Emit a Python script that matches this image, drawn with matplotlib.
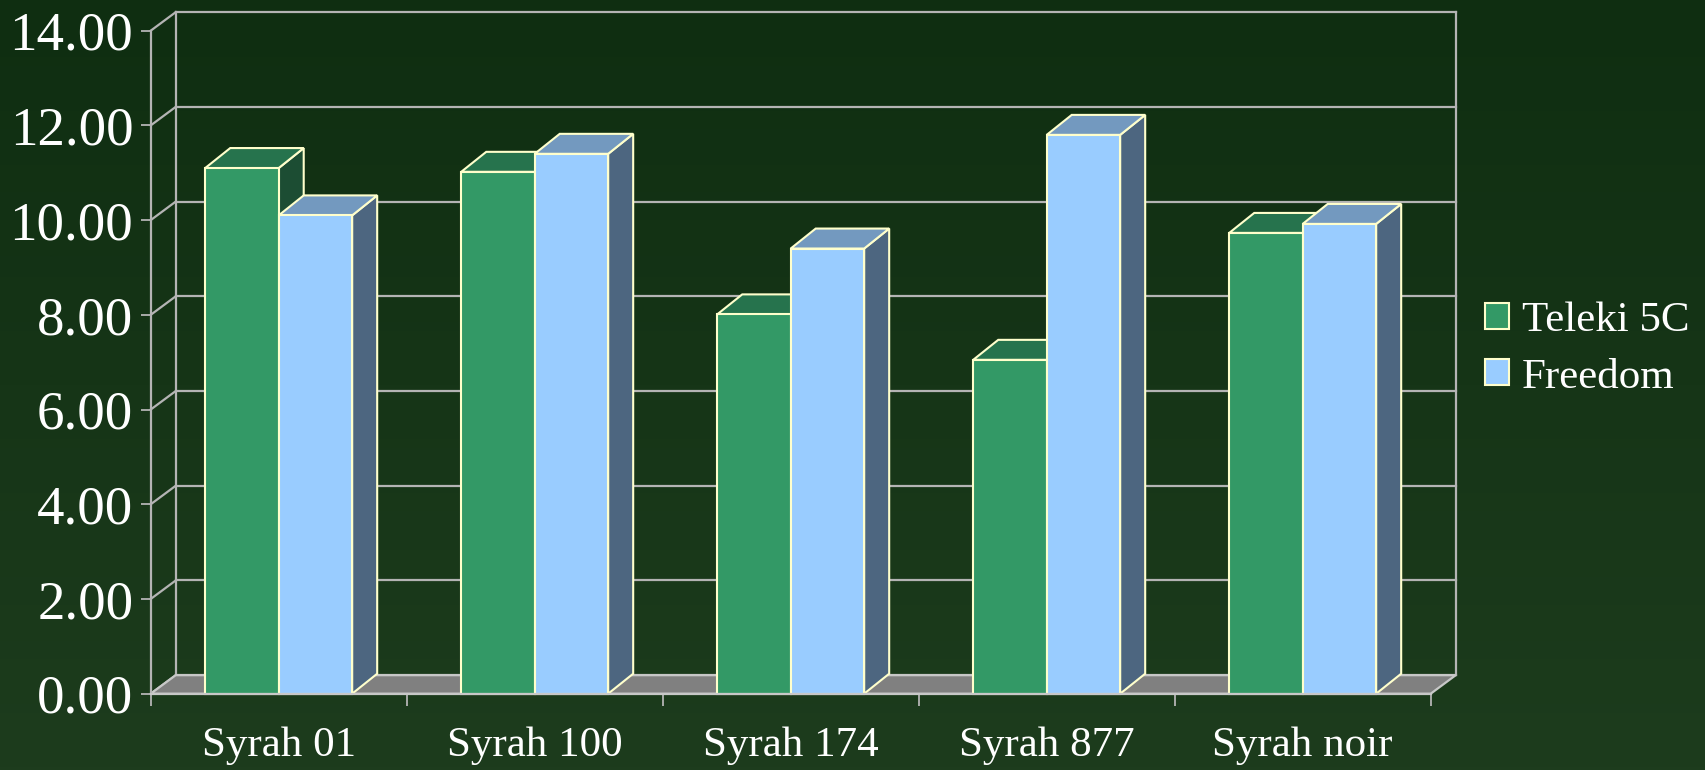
import numpy as np
import matplotlib
matplotlib.use('Agg')
import matplotlib.pyplot as plt
from matplotlib.patches import Polygon, Patch

categories = ['Syrah 01', 'Syrah 100', 'Syrah 174', 'Syrah 877', 'Syrah noir']
series_names = ['Teleki 5C', 'Freedom']
teleki = [11.10, 11.02, 8.01, 7.05, 9.73]
freedom = [10.10, 11.40, 9.40, 11.80, 9.92]
y_ticks = [0, 2, 4, 6, 8, 10, 12, 14]

front_cols = ['#339966', '#99CCFF']
top_cols = ['#26734D', '#7399BF']
side_cols = ['#1C4D33', '#4D6680']
edge_col = '#FFFFCC'
grid_col = '#B4B4B4'

plt.rcParams['font.family'] = ['Liberation Serif', 'DejaVu Serif']

W, H = 1706, 770
fig = plt.figure(figsize=(W / 100, H / 100), dpi=100)

# background gradient
bg = fig.add_axes([0, 0, 1, 1], zorder=-10)
t = np.linspace(0, 1, 256)[:, None, None]
c_top = np.array([15, 46, 17]) / 255
c_bot = np.array([29, 60, 29]) / 255
img = c_top + (c_bot - c_top) * t
bg.imshow(img, aspect='auto', extent=[0, 1, 0, 1])
bg.axis('off')

ax = fig.add_axes([150.7 / W, 76.3 / H, 1280 / W, 663 / H])
ncat = len(categories)
ax.set_xlim(0, ncat)
ax.set_ylim(0, 14)
ax.patch.set_alpha(0)

DX, DY = 0.0977, 0.391     # wall depth offset (data units)
BDX, BDY = 0.0977, 0.422   # bar depth offset (data units)

# back wall gridlines and left wall diagonals
for v in y_ticks:
    ax.plot([DX, ncat + DX], [v + DY, v + DY], color=grid_col, lw=1.6, clip_on=False, zorder=1)
    ax.plot([0, DX], [v, v + DY], color=grid_col, lw=1.6, clip_on=False, zorder=1)
ax.plot([DX, DX], [DY, 14 + DY], color=grid_col, lw=1.6, clip_on=False, zorder=1)
ax.plot([ncat + DX, ncat + DX], [DY, 14 + DY], color=grid_col, lw=1.6, clip_on=False, zorder=1)

# floor
floor = Polygon([(0, 0), (ncat, 0), (ncat + DX, DY), (DX, DY)], closed=True,
                facecolor='#808080', edgecolor='#C8C8C8', lw=1.6, clip_on=False, zorder=2)
ax.add_patch(floor)

# bars
w = 0.287
x = np.arange(ncat) + 0.5
series = [teleki, freedom]
for i in range(ncat):
    for s, vals in enumerate(series):
        xl = x[i] - w + s * w
        xr = xl + w
        h = vals[i]
        side = Polygon([(xr, 0), (xr + BDX, BDY), (xr + BDX, h + BDY), (xr, h)], closed=True,
                       facecolor=side_cols[s], edgecolor=edge_col, lw=1.5, clip_on=False,
                       zorder=3, joinstyle='miter')
        top = Polygon([(xl, h), (xr, h), (xr + BDX, h + BDY), (xl + BDX, h + BDY)], closed=True,
                      facecolor=top_cols[s], edgecolor=edge_col, lw=1.5, clip_on=False,
                      zorder=3, joinstyle='miter')
        ax.add_patch(side)
        ax.add_patch(top)
for s, vals in enumerate(series):
    ax.bar(x - w / 2 + s * w, vals, width=w, color=front_cols[s], edgecolor=edge_col,
           lw=1.5, zorder=4, label=series_names[s], clip_on=False)

# axes / ticks
for sp in ['top', 'right']:
    ax.spines[sp].set_visible(False)
ax.spines['left'].set_color(grid_col)
ax.spines['left'].set_linewidth(1.6)
ax.spines['bottom'].set_color('#C8C8C8')
ax.spines['bottom'].set_linewidth(1.6)
ax.spines['bottom'].set_zorder(5)

ax.set_yticks(y_ticks)
ax.set_yticklabels([f'{v:.2f}' for v in y_ticks])
ax.tick_params(axis='y', direction='out', length=7.5, width=1.3, color=grid_col,
               labelcolor='white', labelsize=39.5, pad=5)

ax.set_xticks(np.arange(ncat + 1))
ax.set_xticklabels([])
ax.tick_params(axis='x', which='major', direction='out', length=8.6, width=1.3, color=grid_col)
ax.set_xticks(x, minor=True)
ax.set_xticklabels(categories, minor=True)
ax.tick_params(axis='x', which='minor', length=0, labelcolor='white', labelsize=31, pad=23.5)

# legend
handles = [Patch(facecolor=front_cols[s], edgecolor=edge_col, lw=1.5) for s in range(2)]
leg = fig.legend(handles, series_names, loc='center left',
                 bbox_to_anchor=(1485 / W, 1 - 349 / H), bbox_transform=fig.transFigure,
                 frameon=False, fontsize=31, handlelength=0.56, handleheight=0.56,
                 handletextpad=0.3, labelspacing=0.42, borderpad=0, borderaxespad=0)
for txt in leg.get_texts():
    txt.set_color('white')

fig.savefig('out.png', dpi=100, facecolor=fig.get_facecolor())
